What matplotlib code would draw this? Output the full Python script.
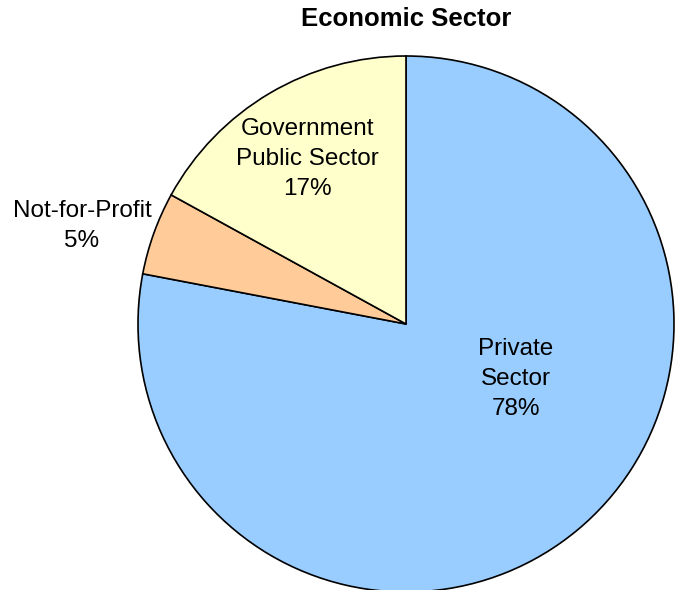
"""
Pie chart of employment share by economic sector.
"""
import matplotlib.pyplot as plt

# Sector shares (percent), drawn clockwise from 12 o'clock
sectors = ["Private\nSector", "Not-for-Profit", "Government\nPublic Sector"]
shares = [78, 5, 17]
colors = ["#99CCFF", "#FFCC99", "#FFFFCC"]

W, H = 677, 590
fig = plt.figure(figsize=(W / 100, H / 100), dpi=100)
ax = fig.add_axes([0, 0, 1, 1])

center = (406, H - 324)
radius = 268

wedges, _ = ax.pie(shares, colors=colors, startangle=90, counterclock=False,
                   center=center, radius=radius, frame=True,
                   wedgeprops=dict(edgecolor="black", linewidth=1.2))
ax.set_xlim(0, W)
ax.set_ylim(0, H)
ax.set_aspect("equal")
ax.axis("off")

font = "Liberation Sans"
label_pos = [(516, 379), (82, 226), (307, 159)]
for name, share, (x, y) in zip(sectors, shares, label_pos):
    ax.text(x, H - y, f"{name}\n{share}%", ha="center", va="center",
            fontsize=17.5, family=font, linespacing=1.45)

fig.text(406 / W, 1 - 19 / H, "Economic Sector", ha="center", va="center",
         fontsize=18.5, fontweight="bold", family=font)

fig.savefig("out.png", dpi=100)
plt.close(fig)
